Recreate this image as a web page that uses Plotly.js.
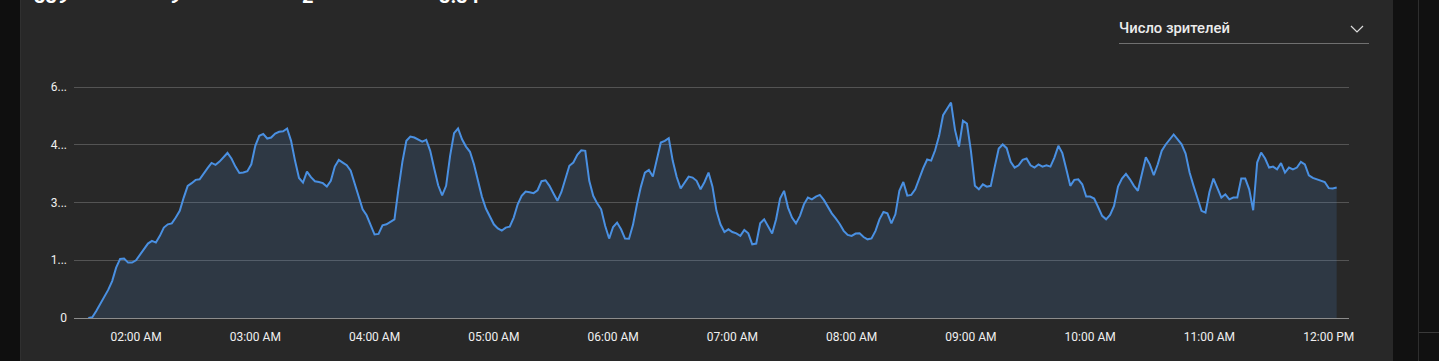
<!DOCTYPE html>
<html>
<head>
<meta charset="utf-8">
<script src="https://cdn.plot.ly/plotly-3.0.1.min.js"></script>
<style>
  html, body { margin:0; padding:0; background:#282828; width:1439px; height:361px; overflow:hidden; font-family: Roboto, "Noto Sans", sans-serif; }
  #chart { position:absolute; left:0; top:0; width:1439px; height:361px; }
  .abs { position:absolute; }
</style>
</head>
<body>
<div id="chart"></div>
<div class="abs" style="left:0;top:0;width:20px;height:361px;background:#0f0f0f;"></div>
<div class="abs" style="left:20px;top:0;width:1px;height:361px;background:#303030;"></div>
<div class="abs" style="left:1393px;top:0;width:46px;height:361px;background:#111111;"></div>
<div class="abs" style="left:1418px;top:0;width:1px;height:361px;background:#2e2e2e;"></div>
<div class="abs" style="left:1419px;top:332px;width:20px;height:1px;background:#3a3a3a;"></div>
<svg class="abs" style="left:0;top:0;" width="1393" height="12">
  <text id="s1" x="34" y="3" fill="#ffffff" font-family="Roboto" font-weight="700" font-size="20"></text>
  <text id="s2" x="169" y="3" fill="#ffffff" font-family="Roboto" font-weight="700" font-size="20"></text>
  <text id="s3" x="302" y="3" fill="#ffffff" font-family="Roboto" font-weight="700" font-size="20"></text>
  <text id="s4" x="439" y="3" fill="#ffffff" font-family="Roboto" font-weight="700" font-size="20"></text>
</svg>
<div class="abs" id="ddlabel" style="left:1119px;top:19px;line-height:18px;font-size:14.8px;font-weight:500;color:#ececec;"></div>
<svg class="abs" style="left:1345px;top:20px;" width="24" height="20">
  <polyline points="6,6 12,12 18,6" fill="none" stroke="#dddddd" stroke-width="1.2"/>
</svg>
<div class="abs" style="left:1119px;top:43px;width:250px;height:1px;background:#707070;"></div>
<script>
// ---- data ----
const headerStats = ["339", "9", "2", "3.34"];
const dropdownLabel = "Число зрителей";
const startTime = "2024-01-01 01:36:00";
const stepMinutes = 2;
const viewers = [
0,20,180,355,555,730,960,1310,1535,1545,1440,1440,
1500,1640,1785,1935,2005,1960,2135,2350,2435,2460,2610,2785,3130,3435,3505,3590,3605,3765,3895,4030,3980,4065,4180,4290,4145,3935,3770,3780,3815,3995,
4475,4735,4785,4665,4690,4795,4840,4855,4925,4605,4085,3640,3520,3805,3660,3555,3535,3505,3415,3565,3935,4110,4040,3970,3830,3475,3175,2825,2670,2395,
2170,2185,2410,2435,2495,2565,3345,4060,4605,4715,4690,4645,4585,4630,4345,3885,3450,3190,3435,4215,4805,4925,4645,4455,4320,3995,3565,3155,2845,2655,
2435,2330,2270,2350,2375,2610,2955,3175,3285,3270,3245,3320,3555,3580,3435,3235,3045,3275,3625,3955,4040,4240,4360,4345,3565,3175,2980,2825,2395,2065,
2365,2480,2305,2065,2060,2420,2955,3415,3780,3850,3675,4085,4560,4605,4675,4085,3665,3365,3505,3675,3650,3565,3345,3535,3780,3415,2785,2435,2235,2305,
2235,2200,2135,2290,2200,1915,1935,2460,2565,2395,2195,2565,3105,3305,2870,2610,2460,2655,2955,3130,3085,3155,3200,3070,2885,2720,2590,2445,2265,2160,
2135,2195,2200,2105,2045,2070,2265,2565,2755,2720,2460,2695,3305,3535,3180,3200,3345,3650,3895,4120,4090,4360,4735,5270,5445,5600,4890,4455,5125,5055,
4345,3435,3345,3475,3415,3435,3935,4405,4510,4415,4060,3910,3970,4110,4145,3970,3910,3990,3935,3970,3935,4170,4475,4285,3865,3435,3590,3605,3475,3155,
3155,3105,2885,2655,2565,2680,2915,3415,3625,3745,3605,3435,3305,3765,4180,3995,3710,3995,4350,4510,4655,4770,4645,4515,4275,3780,3435,3130,2785,2740,
3275,3625,3365,3130,3215,3085,3130,3130,3625,3625,3345,2800,4040,4300,4145,3910,3935,3865,4025,3780,3910,3865,3910,4060,3995,3710,3640,3605,3590,3535,
3375,3365,3390
];
const yTickVals = [0, 1500, 3000, 4500, 6000];
const yTickText = ["0", "1...", "3...", "4...", "6..."];
const xRange = ["2024-01-01 01:28:48", "2024-01-01 12:10:12"];

// ---- build ----
document.getElementById('s1').textContent = headerStats[0];
document.getElementById('s2').textContent = headerStats[1];
document.getElementById('s3').textContent = headerStats[2];
document.getElementById('s4').textContent = headerStats[3];
document.getElementById('ddlabel').textContent = dropdownLabel;

function fmt(d){
  const p = n => String(n).padStart(2,'0');
  return d.getFullYear()+'-'+p(d.getMonth()+1)+'-'+p(d.getDate())+' '+p(d.getHours())+':'+p(d.getMinutes())+':00';
}
const t0 = new Date(startTime.replace(' ', 'T'));
const times = viewers.map((v,i) => fmt(new Date(t0.getTime() + i*stepMinutes*60000)));

const trace = {
  x: times, y: viewers, type: 'scatter', mode: 'lines',
  line: {color: '#4a90e2', width: 2},
  fill: 'tozeroy', fillcolor: 'rgba(80,140,220,0.16)',
  hoverinfo: 'skip'
};
const layout = {
  width: 1439, height: 361,
  margin: {l: 74, r: 90, t: 86, b: 43},
  paper_bgcolor: 'rgba(0,0,0,0)', plot_bgcolor: 'rgba(0,0,0,0)',
  showlegend: false,
  font: {family: 'Roboto, sans-serif', color: '#f0f0f0', size: 12},
  xaxis: {
    type: 'date', range: xRange, dtick: 3600000, tick0: '2024-01-01 00:00:00',
    tickformat: '%I:%M %p', showgrid: false, zeroline: false,
    showline: true, linecolor: '#8c8c8c', linewidth: 1,
    ticks: '', ticklabelstandoff: 8,
    tickfont: {family: 'Roboto, sans-serif', size: 12, color: '#f0f0f0'}
  },
  yaxis: {
    range: [0, 6030], tickvals: yTickVals, ticktext: yTickText,
    showgrid: true, gridcolor: '#545454', gridwidth: 1,
    zeroline: false, showline: false, ticks: '', ticklabelstandoff: 6,
    tickfont: {family: 'Roboto, sans-serif', size: 12, color: '#f0f0f0'}
  }
};
Plotly.newPlot('chart', [trace], layout, {displayModeBar: false, staticPlot: true});
</script>
</body>
</html>
